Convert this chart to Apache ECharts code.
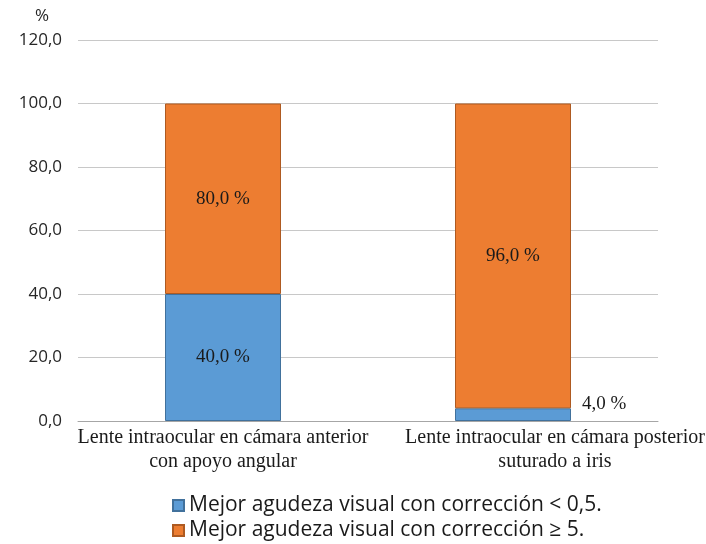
<!DOCTYPE html>
<html>
<head>
<meta charset="utf-8">
<script src="https://cdn.jsdelivr.net/npm/echarts@6/dist/echarts.min.js"></script>
<style>
  html, body { margin: 0; padding: 0; background: #fff; }
  #chart { width: 706px; height: 544px; }
</style>
</head>
<body>
<div id="chart"></div>
<script>
// categorías y valores
const categories = [
  'Lente intraocular en cámara anterior\ncon apoyo angular',
  'Lente intraocular en cámara posterior\nsuturado a iris'
];
const seriesNames = [
  'Mejor agudeza visual con corrección < 0,5.',
  'Mejor agudeza visual con corrección ≥ 5.'
];
const lowValues = [40, 4];
const highValues = [60, 96];
const lowLabels = ['40,0 %', '4,0 %'];
const highLabels = ['80,0 %', '96,0 %'];
const yTicks = [0, 20, 40, 60, 80, 100, 120];

const serif = '"Liberation Serif", "DejaVu Serif", serif';
const sans = '"Open Sans", "Noto Sans", sans-serif';

const chart = echarts.init(document.getElementById('chart'));

// una leyenda por fila para controlar la posición
const legendBase = {
  orient: 'vertical',
  left: 172,
  itemWidth: 11,
  itemHeight: 11,
  icon: 'rect',
  padding: 0,
  textStyle: { fontFamily: sans, fontSize: 21, color: '#1a1a1a' }
};

const catText = { fontFamily: serif, fontSize: 20, color: '#1a1a1a', lineHeight: 24 };

const option = {
  backgroundColor: '#ffffff',
  animation: false,
  grid: { left: 78, right: 48, top: 40, bottom: 123, outerBoundsMode: 'none' },
  title: {
    text: '%',
    left: 30,
    top: 3,
    textStyle: { fontFamily: sans, fontSize: 17, fontWeight: 'normal', color: '#262626' }
  },
  legend: [
    Object.assign({}, legendBase, { top: 495, data: [seriesNames[0]] }),
    Object.assign({}, legendBase, { top: 520, data: [seriesNames[1]] })
  ],
  xAxis: {
    type: 'category',
    data: categories,
    axisTick: { show: false },
    axisLine: { lineStyle: { color: '#a6a6a6' } },
    axisLabel: {
      margin: 5,
      interval: 0,
      formatter: (v, i) => v.split('\n').map((s) => (i === 1 ? '{r|' : '{l|') + s + '}').join('\n'),
      rich: {
        l: Object.assign({}, catText),
        r: Object.assign({}, catText, { padding: [0, 0, 0, 84] })
      }
    }
  },
  yAxis: {
    type: 'value',
    min: yTicks[0],
    max: yTicks[yTicks.length - 1],
    interval: 20,
    axisLine: { show: false },
    axisTick: { show: false },
    splitLine: { lineStyle: { color: '#c8c8c8' } },
    axisLabel: {
      fontFamily: sans,
      fontSize: 17,
      color: '#262626',
      margin: 16,
      formatter: (v) => v.toFixed(1).replace('.', ',')
    }
  },
  series: [
    {
      name: seriesNames[0],
      type: 'bar',
      stack: 'total',
      barWidth: '40%',
      data: lowValues.map((v, i) => ({
        value: v,
        label: i === 1
          ? { position: 'right', offset: [6, -11] }
          : { position: 'inside' }
      })),
      itemStyle: { color: '#5B9BD5', borderColor: '#41719C', borderWidth: 1 },
      label: {
        show: true,
        fontFamily: serif,
        fontSize: 19,
        color: '#1a1a1a',
        formatter: (p) => lowLabels[p.dataIndex]
      }
    },
    {
      name: seriesNames[1],
      type: 'bar',
      stack: 'total',
      barWidth: '40%',
      data: highValues,
      itemStyle: { color: '#ED7D31', borderColor: '#AE5A21', borderWidth: 1 },
      label: {
        show: true,
        position: 'inside',
        fontFamily: serif,
        fontSize: 19,
        color: '#1a1a1a',
        formatter: (p) => highLabels[p.dataIndex]
      }
    }
  ]
};

chart.setOption(option);
window.addEventListener('resize', () => chart.resize());
</script>
</body>
</html>
